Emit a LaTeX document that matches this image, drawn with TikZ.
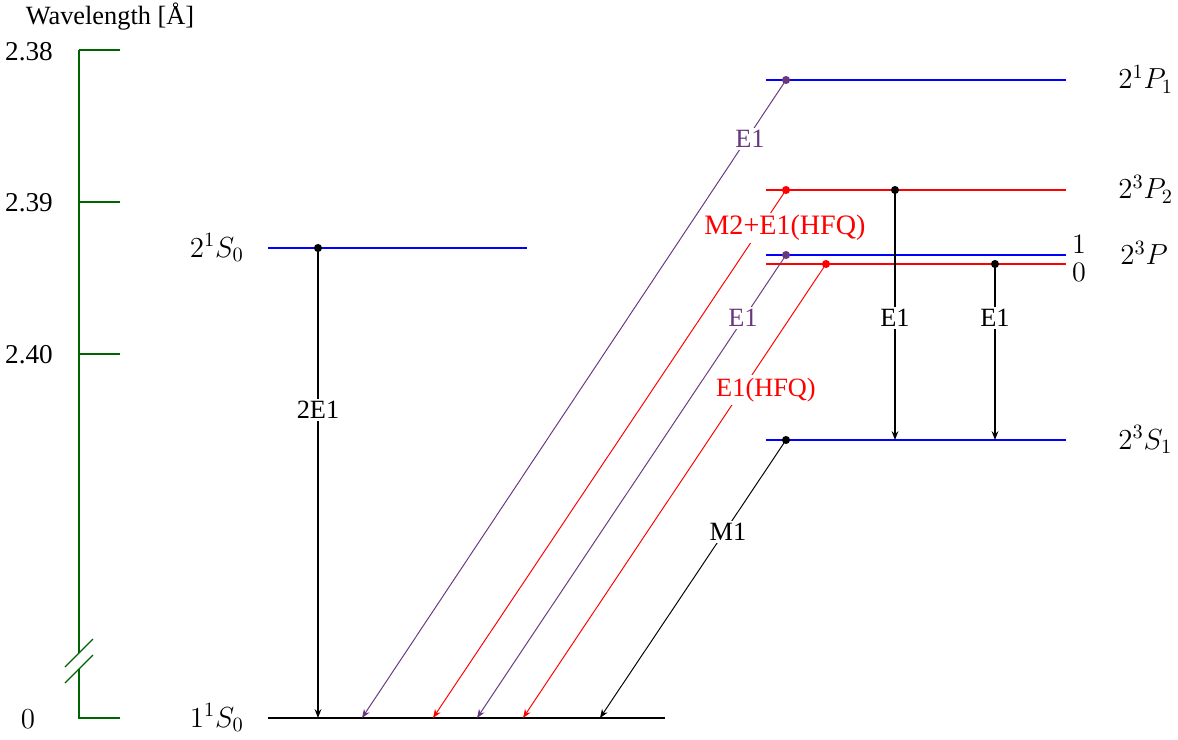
\RequirePackage{fix-cm}
\documentclass[tikz,border=0pt]{standalone}
\usepackage{fontspec}
\setmainfont{Liberation Serif}
\usetikzlibrary{arrows.meta}
\definecolor{axisgreen}{RGB}{0,100,0}
\definecolor{trpurple}{RGB}{105,55,125}
\begin{document}
\begin{tikzpicture}[x=0.02cm,y=-0.02cm,every node/.style={font=\fontsize{15}{17}\selectfont}]
\tikzset{lev/.style={line width=1.1pt},dot/.style={circle,fill,inner sep=0pt,minimum size=4.6pt},
  tr/.style={-{Stealth[length=5pt,width=3.8pt]},line width=0.55pt},lab/.style={fill=white,inner sep=1.5pt},
  axlab/.style={font=\fontsize{15.5}{18}\selectfont},term/.style={inner sep=0pt,font=\fontsize{16.5}{18}\selectfont},
  jval/.style={inner sep=0pt,font=\fontsize{16}{18}\selectfont}}
\useasboundingbox (0,0) rectangle (1178,740);
% wavelength axis with break
\begin{scope}[axisgreen]
  \draw[line width=1.2pt] (79,50) -- (79,653) (79,669) -- (79,718) -- (120,718);
  \draw[line width=1.7pt] (79,50) -- (120,50) (79,354) -- (120,354);
  \draw[line width=0.9pt] (79,202) -- (120,202);
  \draw[line width=0.7pt] (65,667) -- (93,639) (65,683) -- (93,655);
\end{scope}
\node (wl) at (110,17) {Wavelength [Å]};
\foreach \y/\t [count=\i] in {52/2.38,203/2.39,355/2.40}{\node[axlab] (ax\i) at (29,\y) {\t};}
\node[term,anchor=base] (ax0) at (28,728) {$0$};
% levels
\draw[line width=1.7pt] (268,718) coordinate (lvG-l) -- (665,718) coordinate (lvG-r);
\draw[lev,blue] (268,248) coordinate (lvS1-l) -- (527,248) coordinate (lvS1-r);
\foreach \n/\y/\c in {P1/80/blue,Pt2/190/red,Pt1/255/blue,Pt0/264/red,St1/440/blue}{
  \draw[lev,\c] (766,\y) coordinate (lv\n-l) -- (1066,\y) coordinate (lv\n-r);}
\node[term,anchor=base east] (nG) at (244,727) {$1^1S_0$};
\node[term,anchor=base east] (nS1) at (244,257) {$2^1S_0$};
\node[term,anchor=base west] (nP1) at (1118,89) {$2^1P_1$};
\node[term,anchor=base west] (nPt2) at (1118,199) {$2^3P_2$};
\node[term,anchor=base west] (nPt) at (1120,265) {$2^3P$};
\node[jval,anchor=base] (nJ1) at (1079,254) {$1$};
\node[jval,anchor=base] (nJ0) at (1079,281) {$0$};
\node[term,anchor=base west] (nSt1) at (1118,449) {$2^3S_1$};
% transitions
\foreach \n/\x/\y in {S1/318/248,P1/786/80,Pt2/786/190,Pt2b/895/190,Pt1/786/255,Pt0/826/264,Pt0b/995/264,St1/786/440}{
  \coordinate (\n) at (\x,\y);}
\foreach \n/\x in {S1/318,P1/362,Pt2/433,Pt1/477,Pt0/523,St1/600}{\coordinate (g\n) at (\x,718);}
\coordinate (sPt2) at (895,440); \coordinate (sPt0) at (995,440);
\draw[tr,line width=1.1pt] (S1) -- (gS1);
\draw[tr,trpurple] (P1) -- (gP1);
\draw[tr,red] (Pt2) -- (gPt2);
\draw[tr,trpurple] (Pt1) -- (gPt1);
\draw[tr,red] (Pt0) -- (gPt0);
\draw[tr] (St1) -- (gSt1);
\draw[tr,line width=0.8pt] (Pt2b) -- (sPt2);
\draw[tr,line width=0.8pt] (Pt0b) -- (sPt0);
\node[lab] (t2E1) at (318,410) {2E1};
\node[lab,text=trpurple] (tP1) at (750,139) {E1};
\node[lab,text=red,font=\fontsize{16}{18}\selectfont] (tPt2) at (785,228) {M2+E1(HFQ)};
\node[lab,text=trpurple] (tPt1) at (743,318) {E1};
\node[lab,text=red] (tPt0) at (766,390) {E1(HFQ)};
\node[lab] (tSt1) at (728,532) {M1};
\node[lab] (tPt2b) at (895,318) {E1};
\node[lab] (tPt0b) at (995,318) {E1};
\foreach \n/\c in {S1/black,P1/trpurple,Pt2/red,Pt2b/black,Pt1/trpurple,Pt0/red,Pt0b/black,St1/black}{
  \node[dot,\c] (\n-dot) at (\n) {};}
\end{tikzpicture}
\end{document}
